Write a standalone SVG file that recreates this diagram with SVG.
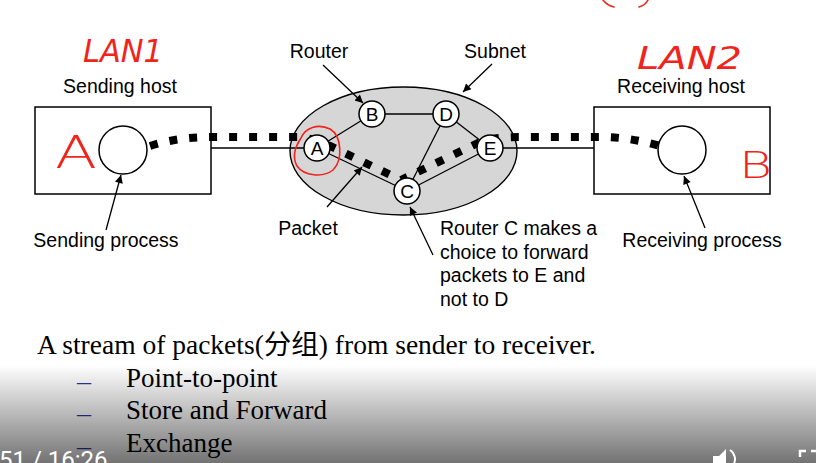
<svg xmlns="http://www.w3.org/2000/svg" width="816" height="463" viewBox="0 0 816 463">
  <defs>
    <marker id="arrow" viewBox="0 0 10 10" refX="10" refY="5" markerWidth="10" markerHeight="8" markerUnits="userSpaceOnUse" orient="auto">
      <path d="M0,0 L10,5 L0,10 z" fill="#000"/>
    </marker>
    <linearGradient id="playerShade" x1="0" y1="0" x2="0" y2="1">
      <stop offset="0" stop-color="#000" stop-opacity="0"/>
      <stop offset="1" stop-color="#000" stop-opacity="0.55"/>
    </linearGradient>
    <style>
      .lbl { font-family: "Liberation Sans", Arial, sans-serif; font-size: 19.5px; fill: #000; }
      .node circle { fill: #fff; stroke: #000; stroke-width: 1.5; }
      .node text { font-family: "Liberation Sans", Arial, sans-serif; font-size: 19px; fill: #000; text-anchor: middle; }
      .host rect { fill: #fff; stroke: #000; stroke-width: 1.5; }
      .proc { fill: #fff; stroke: #000; stroke-width: 1.5; }
      .link { stroke: #000; stroke-width: 1.3; fill: none; }
      .ptr { stroke: #000; stroke-width: 1.3; fill: none; marker-end: url(#arrow); }
      .stream { stroke: #000; stroke-width: 8; fill: none; stroke-dasharray: 8 12; }
      .body { font-family: "Liberation Serif", "Times New Roman", "Noto Sans CJK SC", serif; font-size: 27px; fill: #000; }
      .dash { font-family: "Liberation Serif", "Times New Roman", serif; font-size: 28px; fill: #2b3a9c; }
      .ink { fill: none; stroke: #f2231b; stroke-width: 1.6; stroke-linecap: round; stroke-linejoin: round; }
      .inktext { font-family: "DejaVu Sans", "Liberation Sans", sans-serif; font-weight: 200; fill: #f2231b; }
    </style>
  </defs>

  <rect width="816" height="463" fill="#fff"/>

  <!-- hosts -->
  <g id="sending-host" class="host">
    <rect x="35" y="107" width="176" height="87"/>
    <circle class="proc" cx="123" cy="150" r="24"/>
  </g>
  <g id="receiving-host" class="host">
    <rect x="594" y="107" width="176" height="87"/>
    <circle class="proc" cx="682" cy="150" r="24"/>
  </g>

  <!-- subnet cloud -->
  <g id="subnet">
    <ellipse cx="403.5" cy="151" rx="113.5" ry="64" fill="#d6d6d6" stroke="#000" stroke-width="1.4"/>
  </g>

  <!-- links and pointers -->
  <g id="connectors">
    <line class="link" x1="211" y1="148" x2="304" y2="148"/>
    <line class="link" x1="503" y1="148" x2="594" y2="148"/>
    <line class="link" x1="317" y1="148" x2="372" y2="114"/>
    <line class="link" x1="372" y1="114" x2="446" y2="114"/>
    <line class="link" x1="446" y1="114" x2="407" y2="191"/>
    <line class="link" x1="446" y1="114" x2="490" y2="148"/>
    <line class="link" x1="317" y1="148" x2="407" y2="191"/>
    <line class="link" x1="407" y1="191" x2="490" y2="148"/>

    <!-- packet stream -->
    <path class="stream" d="M150,146 C172,139 192,137 214,137 L298,137 C310,138 318,141 330,146 L401,180 L480,142 C494,138 505,137 520,137 L600,137 C620,137 640,140 660,146"/>

    <!-- callout pointers -->
    <line class="ptr" x1="106" y1="230" x2="121" y2="175"/>
    <line class="ptr" x1="323" y1="65" x2="363" y2="103"/>
    <line class="ptr" x1="492" y1="64" x2="463" y2="92"/>
    <line class="ptr" x1="327" y1="207" x2="362" y2="167"/>
    <line class="ptr" x1="433" y1="255" x2="410" y2="207"/>
    <line class="ptr" x1="705" y1="228" x2="684" y2="176"/>
  </g>

  <!-- routers -->
  <g id="router-A" class="node"><circle cx="317" cy="148" r="13"/><text x="317" y="155">A</text></g>
  <g id="router-B" class="node"><circle cx="372" cy="114" r="13"/><text x="372" y="121">B</text></g>
  <g id="router-D" class="node"><circle cx="446" cy="114" r="13"/><text x="446" y="121">D</text></g>
  <g id="router-E" class="node"><circle cx="490" cy="148" r="13"/><text x="490" y="155">E</text></g>
  <g id="router-C" class="node"><circle cx="407" cy="191" r="13"/><text x="407" y="198">C</text></g>

  <!-- labels -->
  <g id="labels">
    <text class="lbl" x="120" y="93" text-anchor="middle">Sending host</text>
    <text class="lbl" x="681" y="93" text-anchor="middle">Receiving host</text>
    <text class="lbl" x="319" y="58" text-anchor="middle">Router</text>
    <text class="lbl" x="495" y="58" text-anchor="middle">Subnet</text>
    <text class="lbl" x="106" y="247" text-anchor="middle">Sending process</text>
    <text class="lbl" x="702" y="247" text-anchor="middle">Receiving process</text>
    <text class="lbl" x="308" y="235" text-anchor="middle">Packet</text>
    <text class="lbl" x="440" y="235">Router C makes a</text>
    <text class="lbl" x="440" y="258.5">choice to forward</text>
    <text class="lbl" x="440" y="282">packets to E and</text>
    <text class="lbl" x="440" y="305.5">not to D</text>
  </g>

  <!-- slide text -->
  <g id="slide-text">
    <text class="body" x="37" y="354" textLength="559" lengthAdjust="spacingAndGlyphs">A stream of packets(分组) from sender to receiver.</text>
    <text class="dash" x="77" y="390">–</text>
    <text class="body" x="126" y="387">Point-to-point</text>
    <text class="dash" x="77" y="422">–</text>
    <text class="body" x="126" y="419">Store and Forward</text>
    <text class="dash" x="77" y="455">–</text>
    <text class="body" x="126" y="452">Exchange</text>
  </g>

  <!-- pen annotations -->
  <g id="annotations">
    <text class="inktext" x="83" y="62" font-size="32" textLength="80" lengthAdjust="spacingAndGlyphs" font-style="italic">LAN1</text>
    <text class="inktext" x="637" y="69" font-size="32" textLength="105" lengthAdjust="spacingAndGlyphs" font-style="italic">LAN2</text>
    <text class="inktext" x="55" y="168" font-size="44" textLength="42" lengthAdjust="spacingAndGlyphs">A</text>
    <text class="inktext" x="739" y="178" font-size="38" textLength="33" lengthAdjust="spacingAndGlyphs">B</text>
    <path class="ink" d="M301,138 C305,128 318,123 330,129 C342,136 343,160 333,170 C323,178 304,176 297,166 C292,157 295,147 301,138"/>
    <path class="ink" d="M603,0 C606,4 609,6 614,7"/>
    <path class="ink" d="M648,0 C646,4 643,6 639,7"/>
  </g>

  <!-- video player bar -->
  <g id="player">
    <rect x="0" y="365" width="816" height="98" fill="url(#playerShade)"/>
    <text x="-1" y="468" font-family="Roboto, 'Liberation Sans', sans-serif" font-size="24" fill="#fff">51 / 16:26</text>
    <path d="M713,456 L719,456 L726,449 L726,463 L713,463 z" fill="#fff"/>
    <path d="M730,450 C735,453 736,460 734,463" fill="none" stroke="#fff" stroke-width="2"/>
    <path d="M800,457 L800,451 L806,451" fill="none" stroke="#fff" stroke-width="2.5"/>
    <path d="M811,451 L816,451" fill="none" stroke="#fff" stroke-width="2.5"/>
  </g>
</svg>
